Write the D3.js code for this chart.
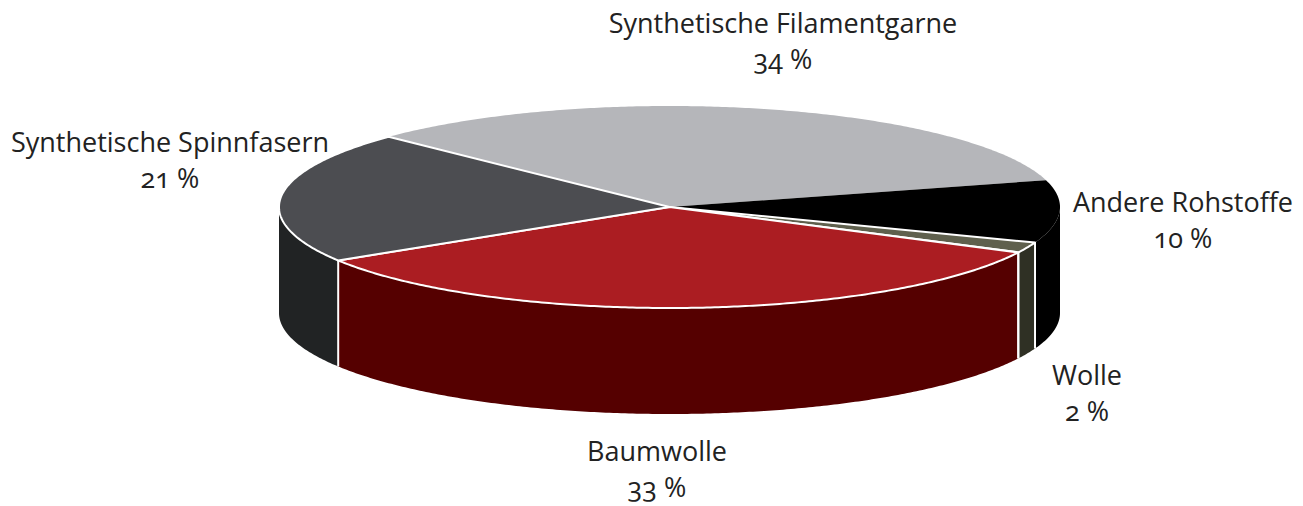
<!DOCTYPE html>
<html>
<head>
<meta charset="utf-8">
<script src="https://d3js.org/d3.v7.min.js"></script>
<style>
    body { margin: 0; background: #fff; }
    text { font-family: "Open Sans", "Noto Sans", sans-serif; font-size: 27px; fill: #222; font-feature-settings: "onum"; }
</style>
</head>
<body>
<svg id="chart" width="1303" height="506"></svg>
<script>
const categories = ["Synthetische Filamentgarne", "Andere Rohstoffe", "Wolle", "Baumwolle", "Synthetische Spinnfasern"];
const printedPercent = [34, 10, 2, 33, 21]; // as printed on the chart
const shares = [33.5, 10, 1.7, 33.7, 21.1]; // slice sizes as drawn
const topColors = ["#b5b6ba", "#000000", "#5f604d", "#ab1d22", "#4c4d51"];
const sideColors = ["#808080", "#000000", "#2f3024", "#550000", "#212324"];
const labelX = [783, 1183, 1087, 657, 170];
const labelY = [33, 212, 385, 461, 152];

const width = 1303, height = 506;
const depth = 106;
const firstAngle = -46 * Math.PI / 180; // where the first slice starts, clockwise from the top

const svg = d3.select("#chart");

// tilted pie: unit circle goes to an ellipse
const x = d3.scaleLinear().domain([-1, 1]).range([279, 1060]);
const y = d3.scaleLinear().domain([-1, 1]).range([106, 308]);

const slices = d3.pie().sort(null)
    .startAngle(firstAngle)
    .endAngle(firstAngle + 2 * Math.PI)(shares);

const line = d3.line();

function rim(a0, a1, dy) {
    const n = Math.max(2, Math.ceil((a1 - a0) / 0.01));
    return d3.range(n + 1).map(i => {
        const a = a0 + (a1 - a0) * i / n;
        return [x(Math.sin(a)), y(-Math.cos(a)) + dy];
    });
}

function topPath(d) {
    return line([[x(0), y(0)], ...rim(d.startAngle, d.endAngle, 0)]) + "Z";
}

// only the part of the wall between 90 and 270 degrees faces the viewer
function sidePath(d) {
    const a0 = Math.max(d.startAngle, Math.PI / 2);
    const a1 = Math.min(d.endAngle, 3 * Math.PI / 2);
    if (a1 <= a0) return null;
    return line([...rim(a0, a1, 0), ...rim(a0, a1, depth).reverse()]) + "Z";
}

const visibleWalls = slices.filter(d => sidePath(d));

svg.append("g").selectAll("path")
    .data(visibleWalls)
    .join("path")
    .attr("d", sidePath)
    .attr("fill", d => sideColors[d.index]);

// white divider lines at the front wall, none on the black slice
svg.append("g").selectAll("line")
    .data(visibleWalls.filter(d => d.index > 1 && d.index < 4).flatMap(d => [d.startAngle, d.endAngle]))
    .join("line")
    .attr("x1", a => x(Math.sin(a)))
    .attr("x2", a => x(Math.sin(a)))
    .attr("y1", a => y(-Math.cos(a)))
    .attr("y2", a => y(-Math.cos(a)) + depth)
    .attr("stroke", "#fff")
    .attr("stroke-width", 2);

// the grey and black slices meet without a line, so they go first and unstroked
svg.append("g").selectAll("path")
    .data(slices)
    .join("path")
    .sort((a, b) => (a.index < 2 ? 0 : 1) - (b.index < 2 ? 0 : 1))
    .attr("d", topPath)
    .attr("fill", d => topColors[d.index])
    .attr("stroke", d => d.index < 2 ? "none" : "#fff")
    .attr("stroke-width", 2)
    .attr("stroke-linejoin", "round");

const labels = svg.append("g").selectAll("text")
    .data(slices)
    .join("text")
    .attr("text-anchor", "middle")
    .attr("x", d => labelX[d.index])
    .attr("y", d => labelY[d.index]);

labels.append("tspan").text(d => categories[d.index]);
labels.append("tspan")
    .attr("x", d => labelX[d.index])
    .attr("dy", 36)
    .text(d => printedPercent[d.index] + " %");
</script>
</body>
</html>
